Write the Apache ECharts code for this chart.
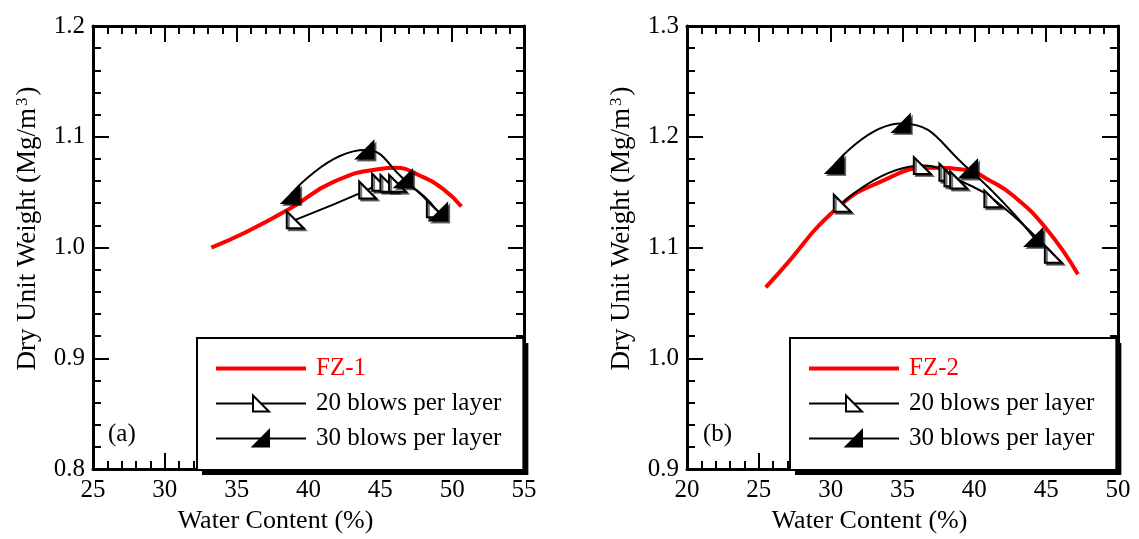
<!DOCTYPE html>
<html>
<head>
<meta charset="utf-8">
<script src="https://cdn.jsdelivr.net/npm/echarts@6/dist/echarts.min.js"></script>
<style>
  html, body { margin: 0; background: #fff; }
  #chart { width: 1139px; height: 539px; }
</style>
</head>
<body>
<div id="chart"></div>
<script>
// (a) FZ-1
const fz1Water = [33.24, 35.67, 38.69, 41.70, 44.95, 46.07, 47.73, 49.36, 50.64];
const fz1Dry = [1.000, 1.014, 1.035, 1.059, 1.071, 1.072, 1.065, 1.053, 1.037];
const a20Water = [39.08, 44.12, 45.02, 45.60, 46.20, 48.83];
const a20Dry = [1.025, 1.052, 1.059, 1.058, 1.058, 1.035];
const a30Water = [38.76, 43.93, 46.62, 49.06];
const a30Dry = [1.048, 1.088, 1.062, 1.032];

// (b) FZ-2
const fz2Water = [25.48, 26.46, 30.40, 33.41, 36.89, 39.44, 41.00, 42.69, 45.01, 47.21];
const fz2Dry = [1.064, 1.078, 1.135, 1.159, 1.172, 1.170, 1.161, 1.147, 1.117, 1.076];
const b20Water = [30.81, 36.38, 38.16, 38.51, 38.91, 41.29, 45.50];
const b20Dry = [1.140, 1.174, 1.168, 1.163, 1.161, 1.144, 1.094];
const b30Water = [30.28, 34.92, 39.60, 44.15];
const b30Dry = [1.175, 1.212, 1.171, 1.109];

const xTicksA = { min: 25, max: 55, interval: 5 };
const xTicksB = { min: 20, max: 50, interval: 5 };
const yTicksA = { min: 0.8, max: 1.2, interval: 0.1 };
const yTicksB = { min: 0.9, max: 1.3, interval: 0.1 };

const FONT = "'Liberation Serif', 'Times New Roman', serif";
const RED = "#ff0000";
const openTri = "path://M0,0L0,10L10,10Z";
const fillTri = "path://M10,0L10,10L0,10Z";

function pairs(xs, ys) {
  return xs.map((x, i) => [x, ys[i]]);
}

function axisBase(gridIndex, ticks) {
  return {
    type: "value",
    gridIndex,
    min: ticks.min,
    max: ticks.max,
    interval: ticks.interval,
    axisLine: { lineStyle: { color: "#000", width: 3 } },
    axisTick: { inside: true, length: 16, lineStyle: { color: "#000", width: 2 } },
    minorTick: { show: true, splitNumber: 5, length: 8, lineStyle: { color: "#000", width: 2 } },
    splitLine: { show: false },
  };
}

function xAxes(gridIndex, ticks) {
  const common = axisBase(gridIndex, ticks);
  return [
    {
      ...common,
      position: "bottom",
      name: "Water Content (%)",
      nameLocation: "middle",
      nameGap: 33,
      nameTextStyle: { fontFamily: FONT, fontSize: 26, color: "#000", padding: [0, 66, 0, 0] },
      axisLabel: { fontFamily: FONT, fontSize: 25, color: "#000", margin: 9 },
    },
    { ...common, position: "top", axisLabel: { show: false } },
  ];
}

function yAxes(gridIndex, ticks) {
  const common = axisBase(gridIndex, ticks);
  return [
    {
      ...common,
      position: "left",
      name: "Dry Unit Weight (Mg/m{s|3})",
      nameLocation: "middle",
      nameGap: 52,
      nameTextStyle: {
        fontFamily: FONT,
        fontSize: 27,
        color: "#000",
        padding: [0, 0, 0, 38],
        rich: { s: { fontFamily: FONT, fontSize: 17, color: "#000", verticalAlign: "top", padding: [0, 2, 10, 2] } },
      },
      axisLabel: {
        fontFamily: FONT,
        fontSize: 25,
        color: "#000",
        margin: 8,
        formatter: (v) => v.toFixed(1),
      },
    },
    { ...common, position: "right", axisLabel: { show: false } },
  ];
}

function curve(name, xi, yi, xs, ys) {
  return {
    name,
    type: "line",
    xAxisIndex: xi,
    yAxisIndex: yi,
    data: pairs(xs, ys),
    smooth: 0.5,
    symbol: "none",
    color: RED,
    lineStyle: { color: RED, width: 4 },
    z: 2,
  };
}

function blows(name, xi, yi, xs, ys, filled) {
  return {
    name,
    type: "line",
    xAxisIndex: xi,
    yAxisIndex: yi,
    data: pairs(xs, ys),
    smooth: 0.5,
    symbol: filled ? fillTri : openTri,
    symbolSize: 17,
    color: filled ? "#000" : "#fff",
    lineStyle: { color: "#000", width: 2 },
    itemStyle: {
      color: filled ? "#000" : "#fff",
      borderColor: "#000",
      borderWidth: 2,
      shadowColor: "rgba(0,0,0,0.55)",
      shadowOffsetX: 2,
      shadowOffsetY: 2,
      shadowBlur: 0,
    },
    z: 3,
  };
}

function legendBox(left, top, fzName, shadow) {
  return {
    left,
    top,
    orient: "vertical",
    selectedMode: false,
    backgroundColor: shadow ? "#000" : "#fff",
    borderColor: "#000",
    borderWidth: shadow ? 0 : 2,
    padding: [18, 22, 19, 18],
    itemWidth: 90,
    itemHeight: 20,
    itemGap: 10,
    textStyle: { fontFamily: FONT, fontSize: 25, color: "#000", lineHeight: 25, padding: [0, 0, 0, 5] },
    data: [
      { name: fzName, icon: "path://M0,0H90V4H0Z", textStyle: { color: RED } },
      "20 blows per layer",
      "30 blows per layer",
    ],
    z: shadow ? 9 : 10,
  };
}

const chart = echarts.init(document.getElementById("chart"));
chart.setOption({
  animation: false,
  backgroundColor: "#fff",
  grid: [
    { left: 93, top: 26, width: 431, height: 445 },
    { left: 687, top: 26, width: 431, height: 445 },
  ],
  xAxis: [...xAxes(0, xTicksA), ...xAxes(1, xTicksB)],
  yAxis: [...yAxes(0, yTicksA), ...yAxes(1, yTicksB)],
  // each legend is drawn twice: a black copy offset by 5px acts as the drop shadow
  legend: [
    legendBox(202, 343, "FZ-1", true),
    legendBox(795, 343, "FZ-2", true),
    legendBox(197, 338, "FZ-1", false),
    legendBox(790, 338, "FZ-2", false),
  ],
  series: [
    curve("FZ-1", 0, 0, fz1Water, fz1Dry),
    blows("20 blows per layer", 0, 0, a20Water, a20Dry, false),
    blows("30 blows per layer", 0, 0, a30Water, a30Dry, true),
    curve("FZ-2", 2, 2, fz2Water, fz2Dry),
    blows("20 blows per layer", 2, 2, b20Water, b20Dry, false),
    blows("30 blows per layer", 2, 2, b30Water, b30Dry, true),
  ],
  graphic: [
    { type: "text", left: 108, top: 422, style: { text: "(a)", font: "25px 'Liberation Serif'", fill: "#000" } },
    { type: "text", left: 703, top: 422, style: { text: "(b)", font: "25px 'Liberation Serif'", fill: "#000" } },
  ],
});
window.addEventListener("resize", () => chart.resize(), { passive: true });
</script>
</body>
</html>
